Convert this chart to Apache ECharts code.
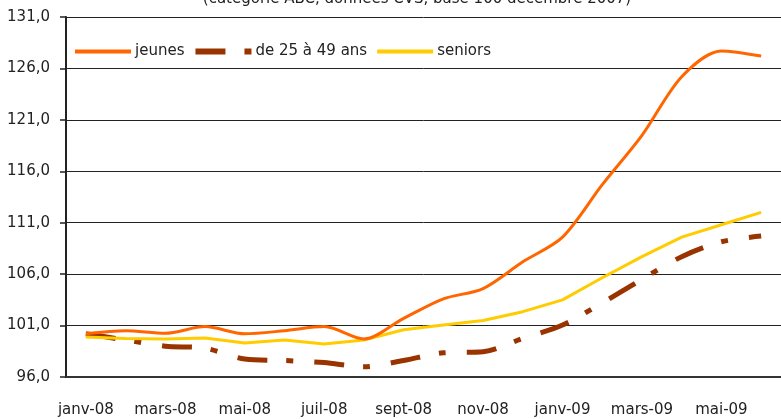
<!DOCTYPE html>
<html>
<head>
<meta charset="utf-8">
<script src="https://cdn.jsdelivr.net/npm/echarts@6/dist/echarts.min.js"></script>
<style>
  html, body { margin: 0; padding: 0; background: #fff; }
  #chart { width: 781px; height: 419px; }
</style>
</head>
<body>
<div id="chart"></div>
<script>
// mois (janv-08 à juin-09), indice base 100 décembre 2007
const months = ['janv-08', 'févr-08', 'mars-08', 'avr-08', 'mai-08', 'juin-08', 'juil-08', 'août-08', 'sept-08',
  'oct-08', 'nov-08', 'déc-08', 'janv-09', 'févr-09', 'mars-09', 'avr-09', 'mai-09', 'juin-09']
const jeunes = [100.2, 100.5, 100.25, 100.9, 100.2, 100.5, 100.9, 99.7, 101.7, 103.6, 104.6, 107.2, 109.6, 114.7, 119.5, 125.2, 127.7, 127.2]
const adultes = [100.2, 99.6, 99.0, 98.8, 97.75, 97.6, 97.4, 97.0, 97.6, 98.35, 98.45, 99.75, 101.05, 103.2, 105.5, 107.7, 109.15, 109.7]
const seniors = [99.9, 99.75, 99.7, 99.8, 99.3, 99.6, 99.2, 99.6, 100.6, 101.05, 101.5, 102.35, 103.5, 105.65, 107.7, 109.6, 110.8, 112.0]
const titleText = '(catégorie ABC, données CVS, base 100 décembre 2007)'

const FONT = 'DejaVu Sans'
const chart = echarts.init(document.getElementById('chart'))

chart.setOption({
  animation: false,
  textStyle: { fontFamily: FONT },
  title: {
    text: titleText,
    left: 412,
    textAlign: 'center',
    top: -13,
    textStyle: { fontFamily: FONT, fontSize: 15, fontWeight: 'normal', color: '#222' },
  },
  grid: { left: 66, top: 17, width: 724, height: 360 },
  legend: {
    left: 68,
    top: 39,
    itemWidth: 56,
    itemHeight: 10,
    itemGap: 8,
    itemStyle: { opacity: 0 },
    textStyle: { fontFamily: FONT, fontSize: 15, color: '#222', padding: [0, 0, 0, -1] },
    data: [
      { name: 'jeunes', lineStyle: { width: 4 } },
      { name: 'de 25 à 49 ans', lineStyle: { width: 6 } },
      { name: 'seniors', lineStyle: { width: 4 } },
    ],
  },
  xAxis: {
    type: 'category',
    data: months,
    boundaryGap: true,
    axisLine: { lineStyle: { color: '#333', width: 2 } },
    axisTick: { interval: 1, length: 6, lineStyle: { color: '#333', width: 1.5 } },
    axisLabel: { interval: 1, margin: 26, fontSize: 15, color: '#222', fontFamily: FONT },
    splitLine: { show: false },
  },
  yAxis: {
    type: 'value',
    min: 96,
    max: 131,
    interval: 5,
    axisLine: { show: true, lineStyle: { color: '#222', width: 2 } },
    axisTick: { show: true, length: 6, lineStyle: { color: '#222', width: 1.5 } },
    axisLabel: {
      margin: 16, fontSize: 15, color: '#222', fontFamily: FONT,
      formatter: v => v.toFixed(1).replace('.', ','),
    },
    splitLine: { lineStyle: { color: '#222', width: 1 } },
  },
  series: [
    {
      name: 'jeunes',
      type: 'line',
      data: jeunes,
      smooth: 0.3,
      symbol: 'none',
      lineStyle: { color: '#FF6600', width: 3 },
      itemStyle: { color: '#FF6600' },
      z: 4,
    },
    {
      name: 'de 25 à 49 ans',
      type: 'line',
      data: adultes,
      smooth: 0.3,
      symbol: 'none',
      lineStyle: { color: '#993300', width: 5, type: [30, 19, 7, 21], cap: 'butt' },
      itemStyle: { color: '#993300' },
      z: 3,
    },
    {
      name: 'seniors',
      type: 'line',
      data: seniors,
      symbol: 'none',
      lineStyle: { color: '#FFCC00', width: 3 },
      itemStyle: { color: '#FFCC00' },
      z: 3,
    },
  ],
})
</script>
</body>
</html>
